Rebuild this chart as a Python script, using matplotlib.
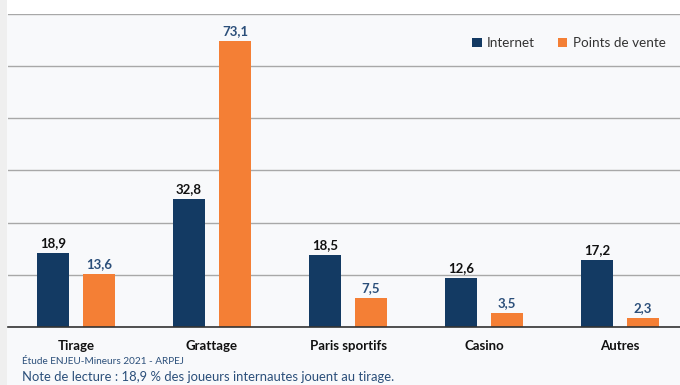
import numpy as np
import matplotlib.pyplot as plt
from matplotlib.patches import Rectangle

categories = ["Tirage", "Grattage", "Paris sportifs", "Casino", "Autres"]
internet = [18.9, 32.8, 18.5, 12.6, 17.2]
points_vente = [13.6, 73.1, 7.5, 3.5, 2.3]

navy = "#133a63"
orange = "#f47f35"
bg = "#f8f9fb"

plt.rcParams['font.family'] = ['Lato', 'DejaVu Sans']

fig = plt.figure(figsize=(6.8, 3.85), dpi=100, facecolor=bg)
# white band on top and thin grey strip on the left
fig.patches.append(Rectangle((0, 1 - 14 / 385), 1, 14 / 385, transform=fig.transFigure,
                             facecolor="white", edgecolor="none", zorder=0))
fig.patches.append(Rectangle((0, 0), 7 / 680, 1, transform=fig.transFigure,
                             facecolor="#efefef", edgecolor="none", zorder=0))

ax = fig.add_axes([8 / 680, 1 - 327 / 385, 680 / 680, 313 / 385])
ax.set_facecolor(bg)

x = np.arange(len(categories))
w = 0.235
off = 0.169
b1 = ax.bar(x - off, internet, w, color=navy, zorder=3)
b2 = ax.bar(x + off, points_vente, w, color=orange, zorder=3)

def fmt(v):
    return f"{v:.1f}".replace(".", ",")

for rect, v in zip(b1, internet):
    ax.text(rect.get_x() + rect.get_width() / 2, v + 1.0, fmt(v), ha="center", va="bottom",
            fontsize=9.5, fontweight="bold", color="#111111", zorder=4)
for rect, v in zip(b2, points_vente):
    ax.text(rect.get_x() + rect.get_width() / 2, v + 1.0, fmt(v), ha="center", va="bottom",
            fontsize=9.5, fontweight="bold", color="#2b4f7a", zorder=4)

ax.set_xlim(-0.5, 4.5)
ax.set_ylim(0, 80)
ax.set_yticks(np.linspace(0, 80, 7))
ax.yaxis.grid(True, color="#a8a8a8", linewidth=1)
ax.set_axisbelow(True)
ax.tick_params(left=False, labelleft=False, bottom=False)
ax.set_xticks(x)
ax.set_xticklabels(categories, fontsize=9.5, fontweight="bold", color="#111111")
ax.tick_params(axis="x", pad=6)
for s in ["top", "right", "left"]:
    ax.spines[s].set_visible(False)
ax.spines["bottom"].set_color("#333333")
ax.spines["bottom"].set_linewidth(1.2)
ax.spines["bottom"].set_zorder(5)

leg = ax.legend([b1, b2], ["Internet", "Points de vente"], loc="upper left",
                bbox_to_anchor=(0.665, 0.964), ncol=2, frameon=False,
                fontsize=9.7, handlelength=0.7, handleheight=0.7, handletextpad=0.4,
                columnspacing=1.7)
for t in leg.get_texts():
    t.set_color("#333333")

fig.text(22 / 680, 1 - 362 / 385, "Étude ENJEU-Mineurs 2021 - ARPEJ", fontsize=7.2,
         color="#2b4f7a", va="center")
fig.text(22 / 680, 1 - 377 / 385, "Note de lecture : 18,9 % des joueurs internautes jouent au tirage.",
         fontsize=9.4, color="#2b4f7a", va="center")

fig.savefig("out.png", dpi=100, facecolor=fig.get_facecolor())
